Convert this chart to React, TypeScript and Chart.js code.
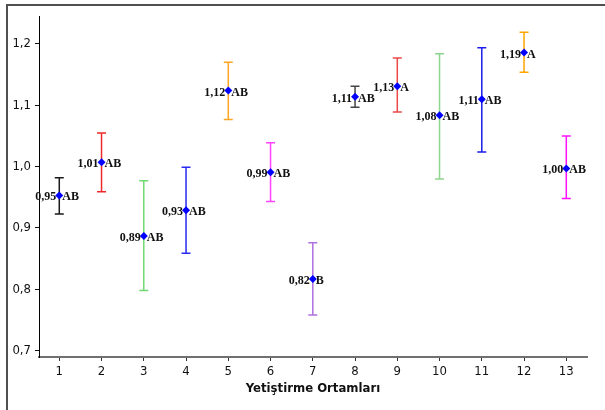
import React, { useEffect, useRef } from "react";
import { Chart, registerables } from "chart.js";

Chart.register(...registerables);

// Growing environments 1..13: mean value, interval bounds and grouping letters
const groups = [1, 2, 3, 4, 5, 6, 7, 8, 9, 10, 11, 12, 13];
const means = [0.953, 1.007, 0.887, 0.929, 1.124, 0.991, 0.817, 1.114, 1.131, 1.084, 1.11, 1.186, 0.997];
const upper = [0.982, 1.055, 0.977, 0.999, 1.17, 1.039, 0.876, 1.131, 1.177, 1.184, 1.194, 1.219, 1.05];
const lower = [0.923, 0.959, 0.798, 0.859, 1.077, 0.943, 0.758, 1.097, 1.089, 0.98, 1.024, 1.154, 0.948];
const letters = ["AB", "AB", "AB", "AB", "AB", "AB", "B", "AB", "A", "AB", "AB", "A", "AB"];
const barColors = [
  "#1a1a1a", "#ee2a2a", "#72d872", "#2a2af0", "#ffa522", "#ff44ff", "#b070dd",
  "#454545", "#ec4848", "#8ed48e", "#1c1cec", "#ffa500", "#ff10ff",
];
const yTicks = [0.7, 0.8, 0.9, 1.0, 1.1, 1.2];
const xTitle = "Yetiştirme Ortamları";

const fmt = (v: number) => v.toFixed(2).replace(".", ",");

const errorBars = {
  id: "errorBars",
  beforeDatasetsDraw(chart: any) {
    const { ctx, scales } = chart;
    const x = scales.x, y = scales.y;
    ctx.save();
    ctx.lineWidth = 1.5;
    groups.forEach((g, i) => {
      const px = x.getPixelForValue(g);
      const top = y.getPixelForValue(upper[i]);
      const bot = y.getPixelForValue(lower[i]);
      ctx.strokeStyle = barColors[i];
      ctx.beginPath();
      ctx.moveTo(px, top);
      ctx.lineTo(px, bot);
      ctx.moveTo(px - 4.5, top);
      ctx.lineTo(px + 4.5, top);
      ctx.moveTo(px - 4.5, bot);
      ctx.lineTo(px + 4.5, bot);
      ctx.stroke();
    });
    ctx.restore();
  },
  afterDatasetsDraw(chart: any) {
    const { ctx, scales } = chart;
    const x = scales.x, y = scales.y;
    ctx.save();
    ctx.font = "bold 12px 'Liberation Serif', 'Times New Roman', serif";
    ctx.fillStyle = "#111";
    ctx.textBaseline = "alphabetic";
    groups.forEach((g, i) => {
      const px = x.getPixelForValue(g);
      const py = y.getPixelForValue(means[i]);
      ctx.textAlign = "right";
      ctx.fillText(fmt(means[i]), px - 3, py + 5);
      ctx.textAlign = "left";
      ctx.fillText(letters[i], px + 3, py + 5);
    });
    ctx.restore();
  },
};

export default function App() {
  const canvasRef = useRef<HTMLCanvasElement | null>(null);

  useEffect(() => {
    if (!canvasRef.current) return;
    const tickFont = { family: "'DejaVu Sans Condensed', 'DejaVu Sans', sans-serif", size: 13 };
    const chart = new Chart(canvasRef.current, {
      type: "scatter",
      data: {
        datasets: [
          {
            data: groups.map((g, i) => ({ x: g, y: means[i] })),
            pointStyle: "rectRot",
            pointRadius: 4,
            backgroundColor: "#0000ff",
            borderColor: "#0000ff",
            borderWidth: 0,
          },
        ],
      },
      options: {
        animation: false,
        responsive: false,
        layout: { padding: { left: 0, right: 18, top: 16, bottom: 0 } },
        plugins: { legend: { display: false }, tooltip: { enabled: false } },
        scales: {
          x: {
            type: "linear",
            min: 0.52,
            max: 13.49,
            afterBuildTicks: (s: any) => {
              s.ticks = groups.map((v) => ({ value: v }));
            },
            afterFit: (s: any) => {
              s.height = 53;
            },
            grid: { drawOnChartArea: false, drawTicks: true, tickLength: 4, color: "#333" },
            border: { color: "#707070", width: 2 },
            ticks: { color: "#111", font: tickFont, padding: 3, callback: (v: any) => String(v) },
            title: {
              display: true,
              text: xTitle,
              color: "#111",
              font: { family: "'DejaVu Sans Condensed', 'DejaVu Sans', sans-serif", size: 13, weight: "bold" },
              padding: { top: 0, bottom: 14 },
            },
          },
          y: {
            type: "linear",
            min: 0.6897,
            max: 1.2456,
            afterBuildTicks: (s: any) => {
              s.ticks = yTicks.map((v) => ({ value: v }));
            },
            afterFit: (s: any) => {
              s.width = 39;
            },
            grid: { drawOnChartArea: false, drawTicks: true, tickLength: 4, color: "#111" },
            border: { color: "#000", width: 1 },
            ticks: {
              color: "#111",
              font: tickFont,
              padding: 4,
              callback: (v: any) => Number(v).toFixed(1).replace(".", ","),
            },
          },
        },
      },
      plugins: [errorBars],
    });
    return () => chart.destroy();
  }, []);

  return (
    <div style={{ position: "fixed", left: 0, top: 0, width: 605, height: 410, background: "#fff" }}>
      <div
        style={{
          position: "absolute",
          left: 6,
          top: 4,
          width: 605,
          height: 410,
          borderTop: "2px solid #505050",
          borderLeft: "2px solid #505050",
        }}
      />
      <canvas ref={canvasRef} width={605} height={410} style={{ position: "absolute", left: 0, top: 0 }} />
    </div>
  );
}
